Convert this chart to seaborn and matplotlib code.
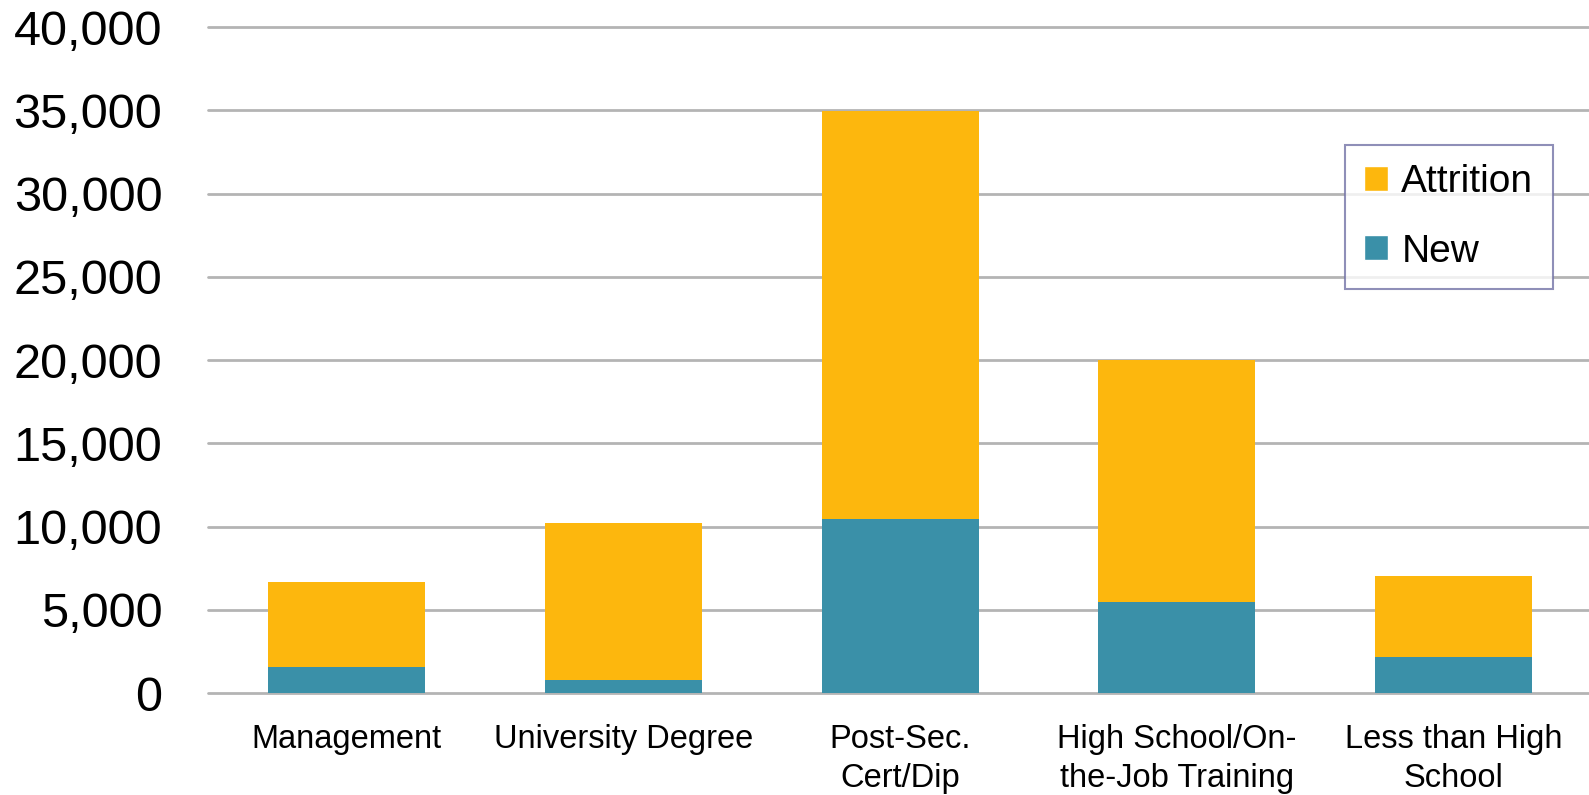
import matplotlib
matplotlib.use("Agg")
import matplotlib.pyplot as plt
from matplotlib.patches import Patch
import seaborn as sns
import pandas as pd

# data
categories = ["Management", "University Degree", "Post-Sec.\nCert/Dip",
              "High School/On-\nthe-Job Training", "Less than High\nSchool"]
new_jobs = [1550, 800, 10450, 5500, 2200]
attrition = [5150, 9450, 24500, 14500, 4850]
y_ticks = [0, 5000, 10000, 15000, 20000, 25000, 30000, 35000, 40000]

yellow = "#FDB70D"
teal = "#3A90A8"

df = pd.DataFrame({"category": categories, "New": new_jobs, "Attrition": attrition})
df["Total"] = df["New"] + df["Attrition"]

sns.set_style("white")
plt.rcParams["font.family"] = ["Liberation Sans", "DejaVu Sans"]
plt.rcParams["text.color"] = "black"
plt.rcParams["xtick.color"] = "black"
plt.rcParams["ytick.color"] = "black"

fig = plt.figure(figsize=(15.89, 7.95), dpi=100)
ax = fig.add_axes([0.131, 0.128, 0.871, 0.838])

# stacked bars: total in yellow, new drawn over it in teal
sns.barplot(data=df, x="category", y="Total", color=yellow, width=0.567,
            saturation=1, linewidth=0, ax=ax, zorder=3)
sns.barplot(data=df, x="category", y="New", color=teal, width=0.567,
            saturation=1, linewidth=0, ax=ax, zorder=3)

ax.set_ylim(0, 40000)
ax.set_xlim(-0.5, 4.5)
ax.set_yticks(y_ticks)
ax.set_yticklabels([f"{v:,}" for v in y_ticks], fontsize=35)
ax.tick_params(axis="y", length=0, pad=33)
ax.tick_params(axis="x", length=0, pad=22)
for lbl in ax.get_xticklabels():
    lbl.set_fontsize(23.5)
    lbl.set_linespacing(1.35)
ax.set_xlabel("")
ax.set_ylabel("")
ax.yaxis.grid(True, color="#b4b4b4", linewidth=2, zorder=0)
ax.set_axisbelow(True)
for line in ax.get_ygridlines():
    line.set_clip_on(False)
for s in ax.spines.values():
    s.set_visible(False)

handles = [Patch(facecolor=yellow, label="Attrition"),
           Patch(facecolor=teal, label="New")]
leg = fig.legend(handles=handles, loc="upper left",
                 bbox_to_anchor=(1345 / 1589, 1 - 145 / 795),
                 fontsize=28, frameon=True, fancybox=False, borderaxespad=0,
                 handlelength=0.6, handleheight=0.6, handletextpad=0.35,
                 labelspacing=0.85, borderpad=0.5)
leg.get_frame().set_edgecolor("#7373a6")
leg.get_frame().set_linewidth(1.5)

fig.savefig("out.png", dpi=100)
